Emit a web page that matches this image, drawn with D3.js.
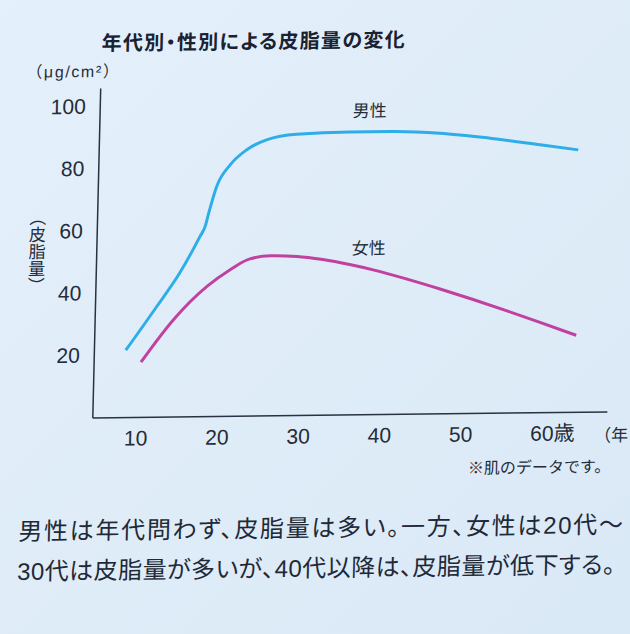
<!DOCTYPE html>
<html>
<head>
<meta charset="utf-8">
<script src="https://cdn.jsdelivr.net/npm/d3@7"></script>
<style>
html,body{margin:0;padding:0;background:#e1eef9;overflow:hidden}
svg{display:block}
</style>
</head>
<body>
<svg id="chart" width="630" height="634"></svg>
<script>
// ---------- data ----------
const maleAges     = [8.6, 12.3, 15.0, 17.4, 18.0, 18.4, 19.3, 20.9, 22.9, 25.3, 29.0, 35.5, 40.5, 46.6, 52.8, 59.0, 63.7];
const maleValues   = [21.5, 35.5, 46.1, 57.8, 61.0, 65.3, 73.8, 80.7, 85.5, 88.6, 90.3, 90.8, 90.8, 90.1, 88.3, 86.0, 84.2];
const femaleAges   = [10.5, 14.4, 18.4, 21.2, 23.6, 26.1, 29.4, 32.6, 35.9, 38.8, 43.0, 47.1, 51.2, 55.4, 59.5, 64.0];
const femaleValues = [17.6, 31.2, 41.7, 47.0, 50.4, 51.3, 51.0, 49.9, 48.2, 46.4, 43.3, 40.0, 36.5, 32.7, 28.9, 24.6];

const xTicks = [10, 20, 30, 40, 50, 60];
const yTicks = [20, 40, 60, 80, 100];
const seriesNames  = ["男性", "女性"];
const labelAges    = [37.9, 38.2];
const labelValues  = [97.7, 53.5];

const titleText = "年代別・性別による皮脂量の変化";
const unitText  = "（μg/cm²）";
const yTitle    = "（皮脂量）";
const xUnit     = "歳";
const xTitle    = "（年";
const noteText  = "※肌のデータです。";
const bodyLines = ["男性は年代問わず、皮脂量は多い。一方、女性は20代～",
                   "30代は皮脂量が多いが、40代以降は、皮脂量が低下する。"];

// ---------- setup ----------
const LATIN = "'Liberation Sans','Noto Sans CJK JP',sans-serif";
const JP = "'Noto Sans CJK JP',sans-serif";
const INK = "#252c39";
const MALE = "#2eaee8";
const FEMALE = "#c0419f";

const svg = d3.select("#chart");
const defs = svg.append("defs");
const grad = defs.append("linearGradient").attr("id","bg")
  .attr("x1","0").attr("y1","0").attr("x2","1").attr("y2","1");
grad.append("stop").attr("offset","0").attr("stop-color","#e4f0fb");
grad.append("stop").attr("offset","1").attr("stop-color","#dae9f6");
svg.append("rect").attr("width",630).attr("height",634).attr("fill","url(#bg)");

// slight perspective of the photographed page
const root = svg.append("g").attr("transform","matrix(1,-0.0117,-0.024,1,6.24,4.095)");

const x = d3.scaleLinear().domain([4.67, 68]).range([96, 610.6]);
const y = d3.scaleLinear().domain([0, 105.9]).range([414.5, 85]);

// title
root.append("text").attr("x",96.4).attr("y",47.4)
  .attr("font-family",JP).attr("font-weight","bold").attr("font-size",20)
  .attr("fill","#1a2130").attr("textLength",303).attr("lengthAdjust","spacing")
  .style("font-feature-settings","'palt'")
  .text(titleText);

// unit
root.append("text").attr("x",21.7).attr("y",74)
  .attr("font-family",LATIN).attr("font-size",16).attr("fill",INK)
  .attr("textLength",92.6).attr("lengthAdjust","spacing")
  .text(unitText);

// y title vertical
root.append("text").attr("x",36.8).attr("y",247.8)
  .attr("font-family",JP).attr("font-size",17).attr("fill",INK)
  .attr("text-anchor","middle")
  .style("writing-mode","vertical-rl")
  .text(yTitle);

// axes
const gx = root.append("g").attr("transform",`translate(0,${y(0)})`)
  .call(d3.axisBottom(x).tickValues(xTicks).tickSize(0).tickPadding(13.6).tickFormat(d3.format("d")));
const gy = root.append("g").attr("transform",`translate(${x.range()[0]},0)`)
  .call(d3.axisLeft(y).tickValues(yTicks).tickSize(0).tickPadding(14).tickFormat(d3.format("d")));
[gx, gy].forEach(g => {
  g.attr("font-family",LATIN).attr("font-size",21);
  g.select(".domain").attr("stroke","#2a3142").attr("stroke-width",1.5);
  g.selectAll(".tick text").attr("fill",INK);
});
// 歳 after 60
gx.selectAll(".tick").filter(d => d === 60).append("text")
  .attr("x",11.7).attr("y",13.6).attr("dy","0.71em")
  .attr("text-anchor","start").attr("font-family",JP).attr("font-size",21)
  .attr("fill",INK).text(xUnit);

// x title at right edge
root.append("text").attr("x",598.5).attr("y",444.3)
  .attr("font-family",JP).attr("font-size",17).attr("fill",INK)
  .text(xTitle);

// note
root.append("text").attr("x",473).attr("y",475.3)
  .attr("font-family",JP).attr("font-size",16).attr("fill",INK)
  .text(noteText);

// lines
const line = d3.line().x(d => x(d[0])).y(d => y(d[1])).curve(d3.curveMonotoneX);
const series = [
  {ages: maleAges, values: maleValues, color: MALE},
  {ages: femaleAges, values: femaleValues, color: FEMALE}
];
root.selectAll("path.series").data(series).join("path")
  .attr("class","series")
  .attr("fill","none")
  .attr("stroke", d => d.color)
  .attr("stroke-width",3)
  .attr("stroke-linecap","butt")
  .attr("d", d => line(d.ages.map((a,i) => [a, d.values[i]])));

// series labels
root.selectAll("text.slabel").data(seriesNames).join("text")
  .attr("class","slabel")
  .attr("x",(d,i) => x(labelAges[i]))
  .attr("y",(d,i) => y(labelValues[i]) + 6.5)
  .attr("text-anchor","middle")
  .attr("font-family",JP).attr("font-size",17).attr("fill",INK)
  .text(d => d);

// body text
const bodyX = [24.8, 24.5];
const bodyY = [536.2, 576.2];
const bodyW = [604.6, 597.9];
root.selectAll("text.body").data(bodyLines).join("text")
  .attr("class","body")
  .attr("x",(d,i) => bodyX[i]).attr("y",(d,i) => bodyY[i])
  .attr("font-family",LATIN).attr("font-size",24).attr("fill","#222936")
  .style("font-feature-settings","'palt'")
  .attr("textLength",(d,i) => bodyW[i]).attr("lengthAdjust","spacing")
  .text(d => d);
</script>
</body>
</html>
